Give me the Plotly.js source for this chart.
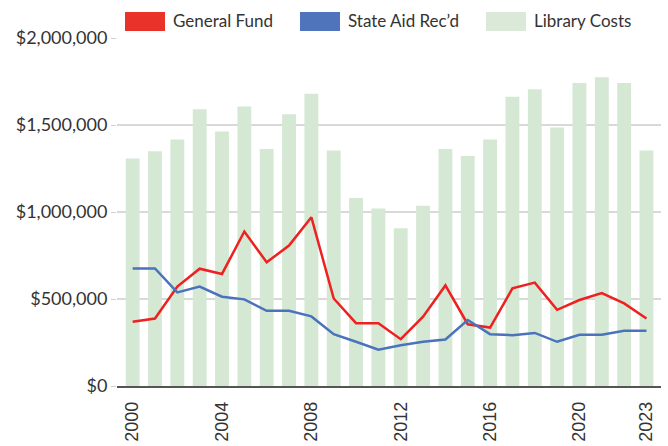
<!DOCTYPE html>
<html><head><meta charset="utf-8">
<script src="https://cdn.plot.ly/plotly-3.0.1.min.js"></script>
<style>html,body{margin:0;padding:0;background:#fff}#chart{width:668px;height:446px}</style>
</head><body><div id="chart"></div>
<script>
const years = [2000,2001,2002,2003,2004,2005,2006,2007,2008,2009,2010,2011,2012,2013,2014,2015,2016,2017,2018,2019,2020,2021,2022,2023];
const libraryCosts = [1307000,1349000,1416000,1591000,1462000,1606000,1362000,1562000,1679000,1354000,1080000,1020000,907000,1036000,1362000,1322000,1416000,1662000,1706000,1485000,1742000,1775000,1742000,1354000];
const generalFund = [369000,388000,571000,674000,644000,888000,711000,807000,970000,503000,361000,361000,269000,398000,578000,355000,336000,561000,594000,438000,494000,534000,475000,388000];
const stateAid = [676000,676000,538000,571000,513000,498000,432000,432000,400000,298000,254000,209000,234000,254000,267000,379000,298000,292000,305000,254000,294000,294000,317000,317000];
const xTicks = [2000,2004,2008,2012,2016,2020,2023];
const yTicks = [0,500000,1000000,1500000,2000000];
const yTickText = ['$0','$500,000','$1,000,000','$1,500,000','$2,000,000'];
const legendNames = ['General Fund','State Aid Rec\u2019d','Library Costs'];
const legendColors = ['#e8322a','#4f74bb','#dbe9d8'];

const FONT = 'Lato, "Open Sans", sans-serif';
const XFONT = '"Liberation Sans", Arial, sans-serif';
const traces = [
  {type:'bar', x:years, y:libraryCosts, name:legendNames[2], marker:{color:'#d5e8d3'}, hoverinfo:'skip'},
  {type:'scatter', mode:'lines', x:years, y:generalFund, name:legendNames[0], line:{color:'#ee2020', width:2.5}},
  {type:'scatter', mode:'lines', x:years, y:stateAid, name:legendNames[1], line:{color:'#4a72bd', width:2.5}}
];
const swX = [125,300,486];
const shapes = [], annotations = [];
legendNames.forEach((n,i)=>{
  shapes.push({type:'rect', xref:'paper', yref:'paper', x0:(swX[i]-117)/544, x1:(swX[i]+40-117)/544,
    y0:(385.7-12)/347.7, y1:(385.7-31)/347.7, fillcolor:legendColors[i], line:{width:0}});
  annotations.push({xref:'paper', yref:'paper', x:(swX[i]+46-117)/544, y:(385.7-21)/347.7, xanchor:'left', yanchor:'middle',
    text:n, showarrow:false, font:{family:FONT, size:17, color:'#333'}});
});
const layout = {
  width:668, height:446,
  margin:{l:117, r:7, t:38, b:60.3},
  paper_bgcolor:'#fff', plot_bgcolor:'#fff',
  showlegend:false,
  bargap:0.38,
  font:{family:FONT, size:18, color:'#333'},
  xaxis:{range:[1999.3,2023.65], tickvals:xTicks, ticktext:xTicks.map(String), tickangle:-90,
    showgrid:false, showline:true, linecolor:'#555', linewidth:1.5, ticks:'outside', ticklen:7, tickcolor:'rgba(0,0,0,0)', zeroline:false,
    tickfont:{family:XFONT, size:18, color:'#333'}},
  yaxis:{range:[0,2000000], tickvals:yTicks, ticktext:yTickText, showgrid:true, gridcolor:'#d9d9d9', gridwidth:1.5,
    zeroline:false, showline:false, ticks:'outside', ticklen:5, tickcolor:'#d0d0d0',
    tickfont:{family:FONT, size:18, color:'#333'}},
  shapes:shapes, annotations:annotations
};
Plotly.newPlot('chart', traces, layout, {displayModeBar:false, staticPlot:true});
</script></body></html>
